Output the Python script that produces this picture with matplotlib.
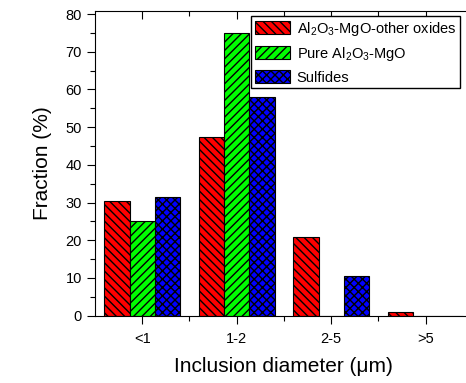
import numpy as np
import matplotlib
matplotlib.use("Agg")
import matplotlib.pyplot as plt
from matplotlib.ticker import MultipleLocator, FixedLocator

plt.rcParams['font.family'] = ['Liberation Sans', 'DejaVu Sans']
plt.rcParams['mathtext.default'] = 'regular'
plt.rcParams['hatch.linewidth'] = 1.0

# data
categories = ['<1', '1-2', '2-5', '>5']
other_oxides = [30.4, 47.5, 21.0, 0.9]
pure_al2o3_mgo = [25.0, 75.0, 0.0, 0.0]
sulfides = [31.6, 57.9, 10.4, 0.0]

series = [
    (other_oxides, 'Al$_2$O$_3$-MgO-other oxides', '#ff0000', '\\\\\\\\'),
    (pure_al2o3_mgo, 'Pure Al$_2$O$_3$-MgO', '#00ff00', '////'),
    (sulfides, 'Sulfides', '#0000ff', 'xxxx'),
]

W, H = 466, 383
fig = plt.figure(figsize=(W / 100, H / 100), dpi=100)
ax = fig.add_axes([95 / W, 1 - 315.7 / H, 377.8 / W, 305 / H])

x = np.arange(len(categories))
bw = 0.267
for i, (vals, label, color, hatch) in enumerate(series):
    ax.bar(x + (i - 1) * bw, vals, width=bw, color=color, edgecolor='black',
           hatch=hatch, linewidth=0.8, label=label)

ax.set_xlim(-0.5, 3.5)
ax.set_ylim(0, 80.9)
ax.set_xticks(x)
ax.set_xticklabels(categories)
ax.xaxis.set_minor_locator(FixedLocator(x[:-1] + 0.5))
ax.yaxis.set_major_locator(MultipleLocator(10))
ax.yaxis.set_minor_locator(MultipleLocator(5))

ax.tick_params(which='both', direction='out', labelsize=10.5, width=0.8,
               top=True)
ax.tick_params(which='major', length=6)
ax.tick_params(which='minor', length=3.5)
ax.tick_params(axis='x', which='major', pad=6)
for sp in ax.spines.values():
    sp.set_linewidth(0.8)

# top ticks point inward
for t in ax.xaxis.get_major_ticks() + ax.xaxis.get_minor_ticks():
    t.tick2line.set_marker(matplotlib.lines.TICKDOWN)

ax.set_xlabel('Inclusion diameter (\u03bcm)', fontsize=15, labelpad=8)
ax.set_ylabel('Fraction (%)', fontsize=15, labelpad=10)

fig.legend(loc='upper right', bbox_to_anchor=(460 / W, 1 - 16 / H),
           borderaxespad=0, fontsize=10.5, fancybox=False, framealpha=1,
           edgecolor='black', handlelength=2.4, handleheight=1.0,
           handletextpad=0.5, labelspacing=0.5, borderpad=0.25)

fig.savefig('out.png', dpi=100)
